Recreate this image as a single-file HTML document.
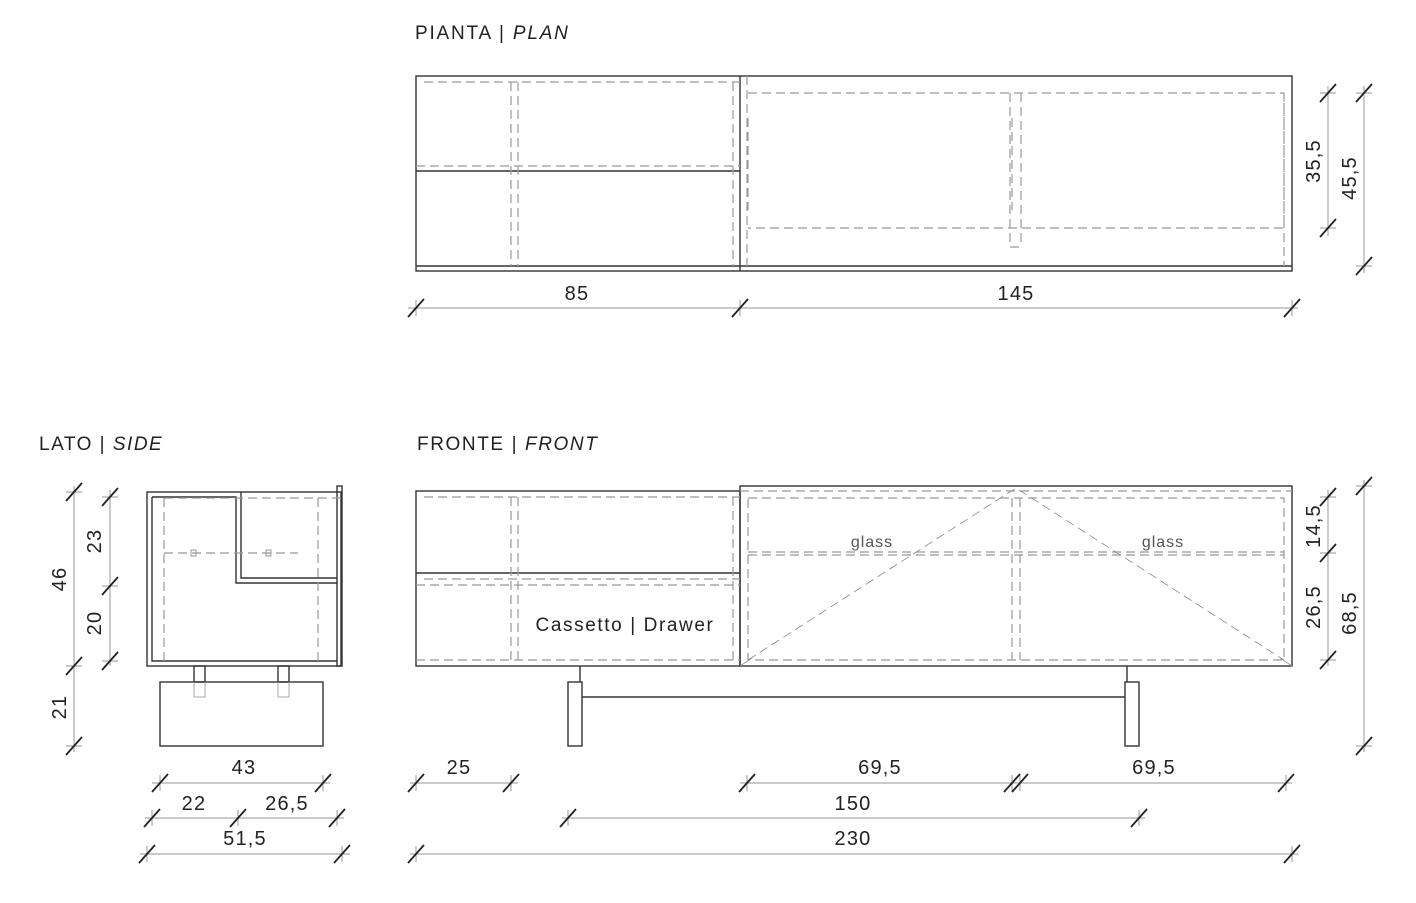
<!DOCTYPE html>
<html><head><style>
body{margin:0;background:#fff}
svg{display:block}
text{font-family:"Liberation Sans",sans-serif;fill:#222}
.o{fill:none;stroke:#333;stroke-width:1.4}
.d{fill:none;stroke:#999;stroke-width:1.2;stroke-dasharray:9 5}
.dd{fill:none;stroke:#888;stroke-width:0.8;stroke-dasharray:9 5}
.dim{stroke:#aaa;stroke-width:1.2;fill:none}
.t{stroke:#222;stroke-width:1.8}
</style></head><body>
<svg width="1416" height="903" viewBox="0 0 1416 903" xmlns="http://www.w3.org/2000/svg">
<text x="415" y="39" font-size="19" letter-spacing="1.8">PIANTA | <tspan font-style="italic">PLAN</tspan></text>
<text x="39" y="450" font-size="19" letter-spacing="1.5">LATO | <tspan font-style="italic">SIDE</tspan></text>
<text x="417" y="450" font-size="19" letter-spacing="1.6">FRONTE | <tspan font-style="italic">FRONT</tspan></text>

<!-- PLAN -->
<rect class="o" x="416" y="76" width="876" height="195"/>
<line class="o" x1="416" y1="266" x2="1292" y2="266"/>
<line class="o" x1="740" y1="76" x2="740" y2="271"/>
<line class="o" x1="416" y1="171" x2="740" y2="171"/>
<path class="d" d="M424 82H740M416 166H740M511 82V266M518 82V266M733 82V266M747 76V266M748 93H1284V228H748M1284 93V266M1010 93V247M1021 93V247M1010 247H1021"/>
<path class="d" d="M748 118V210M1012 118V210"/>

<!-- FRONT -->
<rect class="o" x="416" y="491" width="324" height="175"/>
<line class="o" x1="416" y1="573" x2="740" y2="573"/>
<rect class="o" x="740" y="486" width="552" height="180"/>
<path class="d" d="M424 497H740M424 579H740M416 585H740M511 497V660M518 497V660M733 497V660M416 660H740"/>
<path class="d" d="M740 491H1292M748 498H1284V660H748ZM748 552H1284M748 555H1284M1012 498V660M1020 498V660"/>
<path class="dd" d="M748 660L1016 488L1284 660"/>
<path stroke="#999" stroke-width="1" d="M740 666L752 658M1292 666L1280 658"/>
<text x="872" y="547" font-size="16" text-anchor="middle" letter-spacing="1" style="fill:#555">glass</text>
<text x="1163" y="547" font-size="16" text-anchor="middle" letter-spacing="1" style="fill:#555">glass</text>
<text x="625" y="631" font-size="19" text-anchor="middle" letter-spacing="1.6">Cassetto | Drawer</text>
<path class="o" d="M580 666V682M1127 666V682M582 697H1125"/>
<rect class="o" x="568" y="682" width="14" height="64"/>
<rect class="o" x="1125" y="682" width="14" height="64"/>

<!-- SIDE -->
<rect class="o" x="147" y="492" width="194" height="174"/>
<path class="o" d="M152 497H236V583H337M152 497V661H337M241 492V578H337"/>
<rect class="o" x="337" y="486" width="5" height="180"/>
<path class="d" d="M164 498V661M164 498H341M318 498V661M164 553H298"/>
<rect x="191" y="550" width="5" height="6" fill="none" stroke="#999"/>
<rect x="266" y="550" width="5" height="6" fill="none" stroke="#999"/>
<rect class="o" x="160" y="682" width="163" height="64"/>
<rect class="o" x="194" y="666" width="11" height="16"/>
<rect class="o" x="278" y="666" width="11" height="16"/>
<path stroke="#aaa" d="M194 682V697H205V682M278 682V697H289V682" fill="none"/>

<!-- DIMENSIONS -->
<g class="dim">
<line x1="408" y1="308" x2="1298" y2="308"/>
<line x1="1328" y1="86" x2="1328" y2="236"/>
<line x1="1364" y1="86" x2="1364" y2="273"/>
<line x1="74" y1="486" x2="74" y2="752"/>
<line x1="110" y1="490" x2="110" y2="666"/>
<line x1="152" y1="783" x2="330" y2="783"/>
<line x1="145" y1="818" x2="344" y2="818"/>
<line x1="140" y1="854" x2="350" y2="854"/>
<line x1="410" y1="783" x2="518" y2="783"/>
<line x1="740" y1="783" x2="1292" y2="783"/>
<line x1="562" y1="818" x2="1145" y2="818"/>
<line x1="410" y1="854" x2="1298" y2="854"/>
<line x1="1328" y1="490" x2="1328" y2="666"/>
<line x1="1364" y1="480" x2="1364" y2="752"/>
<path d="M416 300V316M740 300V316M1292 300V316M1320 93H1336M1320 228H1336M1356 93H1372M1356 266H1372M66 492H82M66 666H82M66 746H82M102 497H118M102 586H118M102 661H118M160 775V791M323 775V791M152 810V826M238 810V826M337 810V826M147 846V862M342 846V862M416 775V791M511 775V791M747 775V791M1012 775V791M1020 775V791M1286 775V791M568 810V826M1139 810V826M416 846V862M1292 846V862M1320 497H1336M1320 553H1336M1320 660H1336M1356 486H1372M1356 746H1372"/>
</g>
<g class="t">
<path d="M408 317L424 299M732 317L748 299M1284 317L1300 299M1320 102L1336 84M1320 237L1336 219M1356 102L1372 84M1356 275L1372 257M66 501L82 483M66 675L82 657M66 755L82 737M102 506L118 488M102 595L118 577M102 670L118 652M152 792L168 774M315 792L331 774M144 827L160 809M230 827L246 809M329 827L345 809M139 863L155 845M334 863L350 845M408 792L424 774M503 792L519 774M739 792L755 774M1004 792L1020 774M1012 792L1028 774M1278 792L1294 774M560 827L576 809M1131 827L1147 809M408 863L424 845M1284 863L1300 845M1320 506L1336 488M1320 562L1336 544M1320 669L1336 651M1356 495L1372 477M1356 755L1372 737"/>
</g>

<g font-size="20" text-anchor="middle" letter-spacing="1.2">
<text x="577" y="300">85</text>
<text x="1016" y="300">145</text>
<text x="244" y="774">43</text>
<text x="194" y="810">22</text>
<text x="287" y="810">26,5</text>
<text x="245" y="845">51,5</text>
<text x="459" y="774">25</text>
<text x="880" y="774">69,5</text>
<text x="1154" y="774">69,5</text>
<text x="853" y="810">150</text>
<text x="853" y="845">230</text>
<text transform="translate(1320,161) rotate(-90)">35,5</text>
<text transform="translate(1356,178) rotate(-90)">45,5</text>
<text transform="translate(66,579) rotate(-90)">46</text>
<text transform="translate(66,707) rotate(-90)">21</text>
<text transform="translate(101,541) rotate(-90)">23</text>
<text transform="translate(101,623) rotate(-90)">20</text>
<text transform="translate(1320,526) rotate(-90)">14,5</text>
<text transform="translate(1320,607) rotate(-90)">26,5</text>
<text transform="translate(1356,613) rotate(-90)">68,5</text>
</g>
</svg>
</body></html>
